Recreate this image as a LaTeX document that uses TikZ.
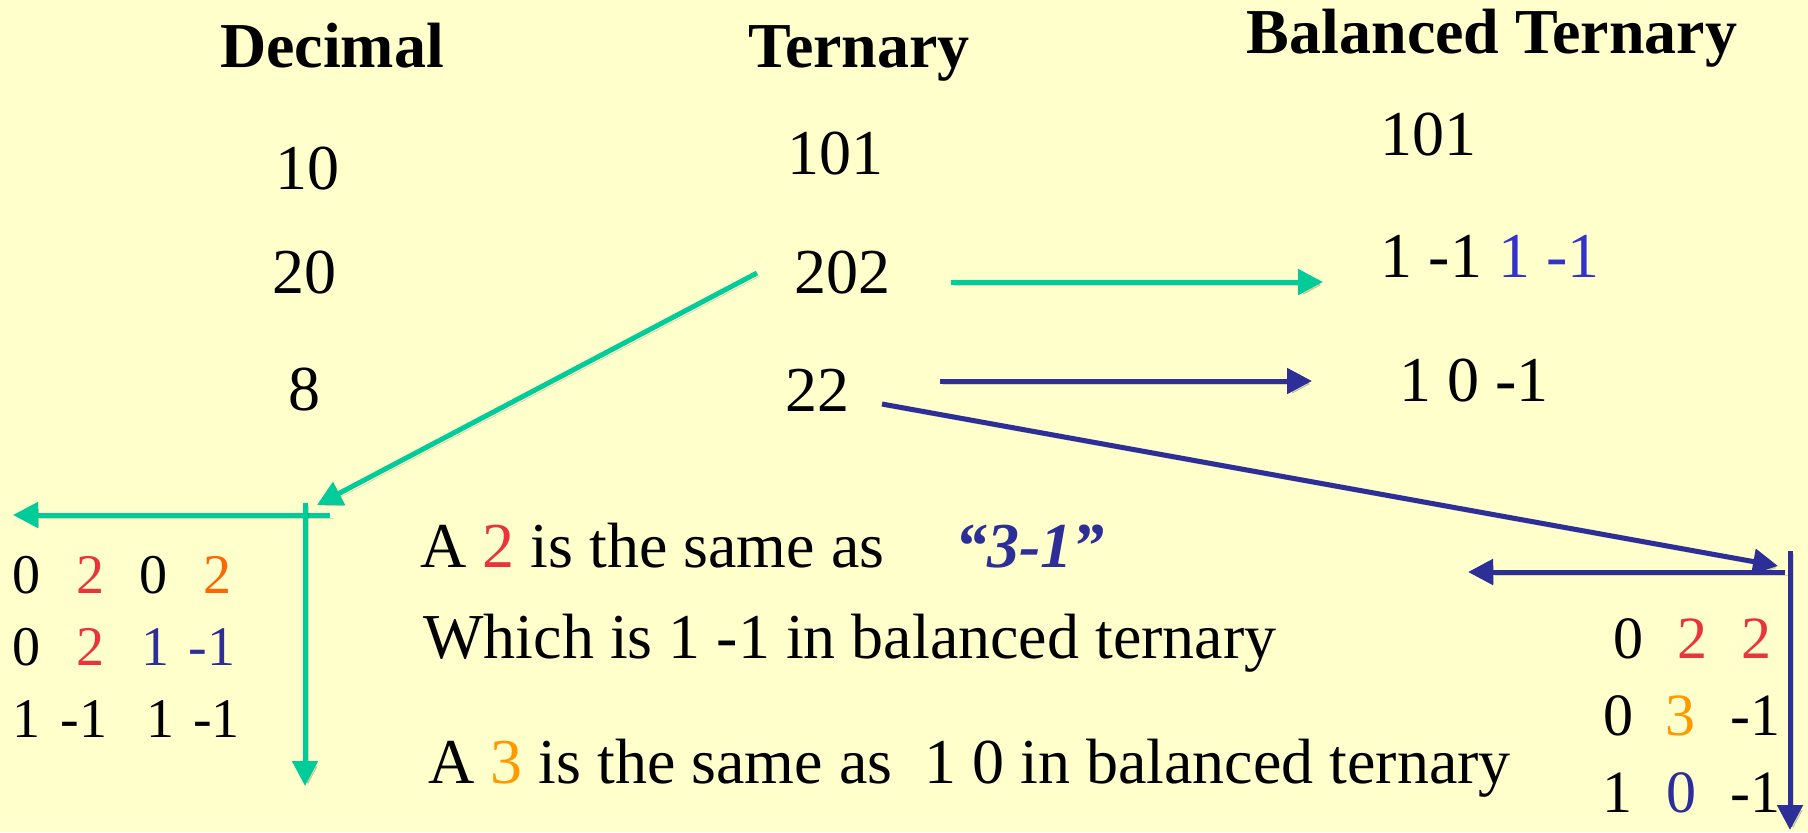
\documentclass[tikz,border=0pt]{standalone}
\usepackage{fontspec}
\setmainfont{Liberation Serif}
\usetikzlibrary{arrows.meta}
\definecolor{slideyellow}{RGB}{255,255,204}
\definecolor{arrowgreen}{RGB}{0,204,153}
\definecolor{arrowblue}{RGB}{46,46,153}
\definecolor{digitred}{RGB}{234,51,58}
\definecolor{digitorange}{RGB}{255,102,0}
\definecolor{digitamber}{RGB}{255,153,0}
\definecolor{brightblue}{RGB}{51,51,204}
\tikzset{
  every node/.style={inner sep=0pt, anchor=base},
  head/.style={font=\fontsize{32}{38}\selectfont\bfseries},
  num/.style={font=\fontsize{32}{38}\selectfont},
  sentence/.style={font=\fontsize{32}{38}\selectfont, anchor=base west},
  smallrow/.style={font=\fontsize{28}{34}\selectfont, anchor=base west},
  midrow/.style={font=\fontsize{30}{36}\selectfont, anchor=base west},
  conv/.style={line width=2.5pt, -{Triangle[length=12.5pt,width=12.5pt]},
    preaction={draw=black, opacity=0.15, transform canvas={shift={(1.5pt,-1.5pt)}}}}
}
\begin{document}
\begin{tikzpicture}[x=0.5pt, y=-0.5pt]
  \fill[slideyellow] (0,0) rectangle (1808,832);
  \useasboundingbox (0,0) rectangle (1808,832);
  % Column headings
  \node[head] (dechead) at (332,67) {Decimal};
  \node[head] (terhead) at (859,67) {Ternary};
  \node[head] (balhead) at (1492,53) {Balanced Ternary};
  % Decimal column
  \node[num] (dec1) at (307,189) {10};
  \node[num] (dec2) at (304,293) {20};
  \node[num] (dec3) at (304,410) {8};
  % Ternary column
  \node[num] (ter1) at (835,174) {101};
  \node[num] (ter2) at (842,293) {202};
  \node[num] (ter3) at (817,411) {22};
  % Balanced ternary column
  \node[num] (bal1) at (1428,155) {101};
  \node[num] (bal2) at (1490,277) {1 -1 \textcolor{brightblue}{1 -1}};
  \node[num] (bal3) at (1474,401) {1 0 -1};
  % Arrow ends
  \coordinate (gstart) at (951,282);
  \coordinate (gtip) at (1323,282);
  \coordinate (bstart) at (940,381);
  \coordinate (btip) at (1312,381);
  \coordinate (gdiag) at (757,273);
  \coordinate (gcorner) at (317,505);
  \coordinate (gright) at (330,515);
  \coordinate (gleft) at (13,515);
  \coordinate (gtop) at (305,503);
  \coordinate (gbottom) at (305,786);
  \coordinate (bdiag) at (882,404);
  \coordinate (bcorner) at (1778,566);
  \coordinate (bright) at (1785,572);
  \coordinate (bleft) at (1468,572);
  \coordinate (btop) at (1790,551);
  \coordinate (bbottom) at (1790,830);
  % Green: 202
  \draw[conv, arrowgreen] (gstart) -- (gtip);
  \draw[conv, arrowgreen] (gdiag) -- (gcorner);
  \draw[conv, arrowgreen] (gright) -- (gleft);
  \draw[conv, arrowgreen] (gtop) -- (gbottom);
  % Blue: 22
  \draw[conv, arrowblue] (bstart) -- (btip);
  \draw[conv, arrowblue] (bdiag) -- (bcorner);
  \draw[conv, arrowblue] (bright) -- (bleft);
  \draw[conv, arrowblue] (btop) -- (bbottom);
  % Left working
  \node[smallrow] (left1) at (12,593) {0\hspace{18pt}\textcolor{digitred}{2}\hspace{17.5pt}0\hspace{18pt}\textcolor{digitorange}{2}};
  \node[smallrow] (left2) at (12,665) {0\hspace{18pt}\textcolor{digitred}{2}\hspace{18.5pt}\textcolor{arrowblue}{1\hspace{9.5pt}-1}};
  \node[smallrow] (left3) at (12,737) {1\hspace{10pt}-1\hspace{19.5pt}1\hspace{9.5pt}-1};
  % Right working
  \node[midrow] (right1) at (1613,658) {0\hspace{17pt}\textcolor{digitred}{2}\hspace{17pt}\textcolor{digitred}{2}};
  \node[midrow] (right2) at (1603,735) {0\hspace{16pt}\textcolor{digitamber}{3}\hspace{17.5pt}-1};
  \node[midrow] (right3) at (1602,812) {1\hspace{17pt}\textcolor{arrowblue}{0}\hspace{17pt}-1};
  % Explanation
  \node[sentence] (rule2) at (420,567) {A \textcolor{digitred}{2} is the same as};
  \node[sentence, font=\fontsize{32}{38}\selectfont\bfseries\itshape, text=arrowblue] (quote) at (955,567) {“3-1”};
  \node[sentence] (which) at (423,658) {Which is 1 -1 in balanced ternary};
  \node[sentence] (rule3) at (428,783) {A \textcolor{digitamber}{3} is the same as\ \ 1 0 in balanced ternary};
\end{tikzpicture}
\end{document}
